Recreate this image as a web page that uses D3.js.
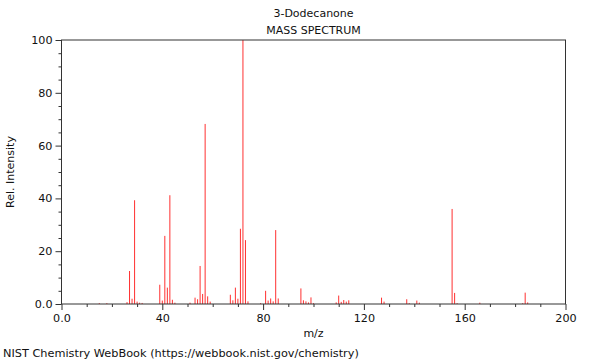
<!DOCTYPE html>
<html>
<head>
<meta charset="utf-8">
<script src="https://cdn.jsdelivr.net/npm/d3@7"></script>
<style>
  body { margin: 0; background: #fff; }
  text { font-family: "DejaVu Sans", sans-serif; font-size: 11px; fill: #111; }
</style>
</head>
<body>
<svg id="chart" width="600" height="360"></svg>
<script>
// peaks
var mz = [15, 18, 26, 27, 28, 29, 30, 31, 32, 39, 40, 41, 42, 43, 44, 45, 51, 53, 54, 55,
          56, 57, 58, 59, 67, 68, 69, 70, 71, 72, 73, 74, 79, 81, 82, 83, 84, 85, 86,
          95, 96, 97, 98, 99, 100, 109, 110, 111, 112, 113, 114, 127, 128, 137, 138,
          141, 142, 155, 156, 157, 166, 183, 184, 185];
var intensity = [0.3, 0.3, 0.7, 12.5, 2.0, 39.3, 0.9, 0.5, 0.4, 7.3, 1.3, 25.8, 6.2, 41.2, 1.6, 0.5, 0.5, 2.4, 1.8, 14.4,
                 3.8, 68.2, 2.9, 0.9, 3.5, 1.4, 6.2, 2.0, 28.5, 100, 24.2, 1.0, 0.3, 5.0, 1.3, 2.1, 1.0, 28.0, 2.1,
                 5.9, 1.4, 1.0, 0.6, 2.5, 0.3, 0.6, 3.2, 0.8, 1.5, 0.9, 1.4, 2.4, 0.9, 1.8, 0.3,
                 1.3, 0.5, 36.0, 4.2, 0.3, 0.5, 0.3, 4.3, 0.6];

var xMajor = [0, 40, 80, 120, 160, 200];
var xMinor = [10, 20, 30, 50, 60, 70, 90, 100, 110, 130, 140, 150, 170, 180, 190];
var yMajor = [0, 20, 40, 60, 80, 100];
var yMinor = d3.range(5, 100, 5).filter(function(v) { return v % 20 != 0; });

var titleLines = ["3-Dodecanone", "MASS SPECTRUM"];

var svg = d3.select("#chart");
// note: "top" is taken by window.top, so plot edges get their own names
var plotL = 61.5, plotR = 565.5, plotT = 40, plotB = 304;

var x = d3.scaleLinear().domain([0, 200]).range([plotL, plotR]);
var y = d3.scaleLinear().domain([0, 100]).range([plotB, plotT]);

function fmt(v) { return v == 0 ? "0.0" : String(v); }

/*
axes: majors with labels, minors plain */
var gx = svg.append("g").attr("transform", "translate(0," + plotB + ")");
gx.call(d3.axisBottom(x).tickValues(xMajor).tickFormat(fmt).tickSize(6).tickPadding(4));
gx.append("g").call(d3.axisBottom(x).tickValues(xMinor).tickFormat("").tickSize(3));

var gy = svg.append("g").attr("transform", "translate(" + plotL + ",0)");
gy.call(d3.axisLeft(y).tickValues(yMajor).tickFormat(fmt).tickSize(6).tickPadding(3));
gy.append("g").call(d3.axisLeft(y).tickValues(yMinor).tickFormat("").tickSize(3));

svg.selectAll(".domain").remove();
svg.selectAll(".tick line").attr("stroke", "#333");
svg.selectAll(".tick text").attr("fill", "#111").style("font-size", "11.2px")
   .style("font-family", "DejaVu Sans, sans-serif");

// peaks
svg.append("g").selectAll("line").data(mz).enter().append("line")
  .attr("x1", function(d) { return x(d); })
  .attr("x2", function(d) { return x(d); })
  .attr("y1", y(0))
  .attr("y2", function(d, i) { return y(intensity[i]); })
  .attr("stroke", "#ff3030")
  .attr("stroke-width", 1);

// frame
svg.append("rect")
  .attr("x", plotL).attr("y", plotT)
  .attr("width", plotR - plotL).attr("height", plotB - plotT)
  .attr("fill", "none").attr("stroke", "#333").attr("stroke-width", 1);

svg.selectAll(".title").data(titleLines).enter().append("text")
  .attr("x", (plotL + plotR) / 2)
  .attr("y", function(d, i) { return 17 + i * 17; })
  .attr("text-anchor", "middle")
  .text(function(d) { return d; });

svg.append("text")
  .attr("x", (plotL + plotR) / 2).attr("y", 337)
  .attr("text-anchor", "middle")
  .text("m/z");

svg.append("text")
  .attr("transform", "translate(14," + ((plotT + plotB) / 2) + ") rotate(-90)")
  .attr("text-anchor", "middle")
  .text("Rel. Intensity");

svg.append("text")
  .attr("x", 3).attr("y", 357)
  .style("font-size", "11.3px")
  .text("NIST Chemistry WebBook (https://webbook.nist.gov/chemistry)");
</script>
</body>
</html>
